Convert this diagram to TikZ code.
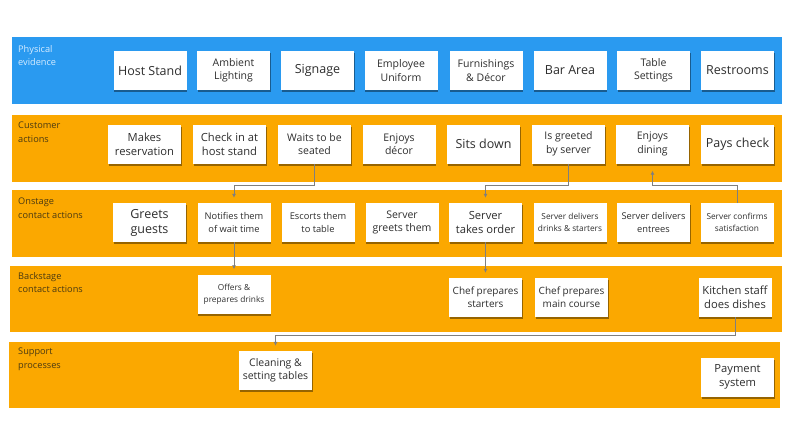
\documentclass[tikz,border=0pt]{standalone}
\usepackage{fontspec}
\setmainfont{Open Sans}
\usetikzlibrary{shadows,arrows.meta}
\definecolor{bandblue}{HTML}{2A9AF0}
\definecolor{bandorange}{HTML}{FBA800}
\definecolor{labdark}{HTML}{4A3A12}
\definecolor{labblue}{HTML}{D6ECFF}
\definecolor{notetext}{HTML}{2E2E2E}
\definecolor{connc}{HTML}{7F7F7F}
\tikzset{
  lanelabel/.style={anchor=north west, align=left, inner sep=0pt, font=\fontsize{9.2}{13.5}\selectfont},
  note/.style={fill=white, draw=none, minimum width=73pt, minimum height=39pt, align=center,
    text=notetext, inner sep=1pt,
    drop shadow={shadow xshift=0.5pt, shadow yshift=-2pt, opacity=0.4, fill=black}},
  fA/.style={font=\fontsize{12.5}{15}\selectfont},
  fB/.style={font=\fontsize{11.2}{14}\selectfont},
  fC/.style={font=\fontsize{10.5}{13.5}\selectfont},
  fCD/.style={font=\fontsize{10}{13}\selectfont},
  fD/.style={font=\fontsize{9.3}{13}\selectfont},
  fE/.style={font=\fontsize{8.3}{12}\selectfont},
  conn/.style={draw=connc, line width=0.8pt},
  arr/.style={conn, -{Latex[length=4pt,width=4pt]}, shorten >=5pt},
}
\begin{document}
\begin{tikzpicture}[x=1pt,y=-1pt]
\useasboundingbox (0,0) rectangle (794,440);
% bands
\fill[bandblue]   (12,37)  rectangle (782,104);
\fill[bandorange] (12,115) rectangle (782,182);
\fill[bandorange] (12,190) rectangle (782,257);
\fill[bandorange] (10,266) rectangle (782,332);
\fill[bandorange] (9,342)  rectangle (780,408);
% lane labels
\node[lanelabel, text=labblue] (l1) at (18,45) {Physical\\evidence};
\node[lanelabel, text=labdark] (l2) at (18,122) {Customer\\actions};
\node[lanelabel, text=labdark] (l3) at (18,198) {Onstage\\contact actions};
\node[lanelabel, text=labdark] (l4) at (18,272) {Backstage\\contact actions};
\node[lanelabel, text=labdark] (l5) at (18,348) {Support\\processes};
% row 1
\node[note,fA] (hs)   at (150,70.5) {Host Stand};
\node[note,fC] (al)   at (233.5,70.5) {Ambient\\Lighting};
\node[note,fA] (sg)   at (317.5,70.5) {Signage};
\node[note,fC] (eu)   at (401,70.5) {Employee\\Uniform};
\node[note,fC] (fd)   at (486,70.5) {Furnishings\\\& Décor};
\node[note,fA] (ba)   at (570,70.5) {Bar Area};
\node[note,fC] (ts)   at (653.5,70.5) {Table\\Settings};
\node[note,fA] (rr)   at (737.5,70.5) {Restrooms};
% row 2
\node[note,fB] (mr)   at (144.5,144) {Makes\\reservation};
\node[note,fB] (ci)   at (229.5,144) {Check in at\\host stand};
\node[note,fC] (wt)   at (314.5,144) {Waits to be\\seated};
\node[note,fC] (ed)   at (399,144) {Enjoys\\décor};
\node[note,fA] (sd)   at (483.5,144) {Sits down};
\node[note,fC] (ig)   at (568.5,144) {Is greeted\\by server};
\node[note,fC] (edn)  at (652.5,144) {Enjoys\\dining};
\node[note,fA] (pc)   at (737.5,144) {Pays check};
% row 3
\node[note,fA] (gg)   at (149.5,222.5) {Greets\\guests};
\node[note,fD] (nt)   at (234,222.5) {Notifies them\\of wait time};
\node[note,fD] (et)   at (318,222.5) {Escorts them\\to table};
\node[note,fC] (sgt)  at (402,222.5) {Server\\greets them};
\node[note,fB] (sto)  at (485.5,222.5) {Server\\takes order};
\node[note,fE] (sdd)  at (570,222.5) {Server delivers\\drinks \& starters};
\node[note,fD] (sde)  at (653.5,222.5) {Server delivers\\entrees};
\node[note,fE] (scs)  at (737,222.5) {Server confirms\\satisfaction};
% row 4
\node[note,fE] (op)   at (234,294) {Offers \&\\prepares drinks};
\node[note,fCD] (cps) at (485.5,297.5) {Chef prepares\\starters};
\node[note,fCD] (cpm) at (571.5,297) {Chef prepares\\main course};
\node[note,fB] (ksd)  at (735,297.5) {Kitchen staff\\does dishes};
% row 5
\node[note,fC] (cst)  at (275.5,370.5) {Cleaning \&\\setting tables};
\node[note,fB] (ps)   at (737.5,377) {Payment\\system};
% elbow levels
\coordinate (e1) at (0,185);
\coordinate (e2) at (0,335);
% connectors
\draw[arr] (wt.south) -- (wt.south |- e1) -| (nt.north);
\draw[arr] (ig.south) -- (ig.south |- e1) -| (sto.north);
\draw[arr, shorten >=7pt] (scs.north) -- (scs.north |- e1) -| (edn.south);
\draw[arr] (nt.south) -- (op.north);
\draw[arr] (sto.south) -- (cps.north);
\draw[arr] (ksd.south) -- (ksd.south |- e2) -| (cst.north);
\end{tikzpicture}
\end{document}
